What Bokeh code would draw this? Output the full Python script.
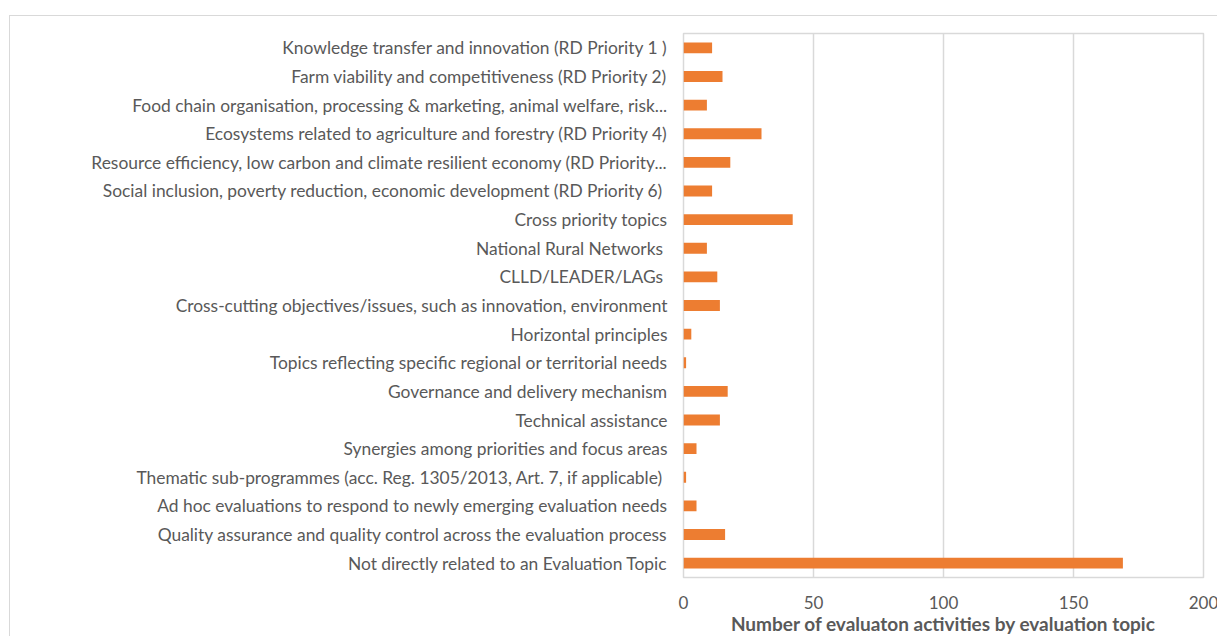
from bokeh.plotting import figure
from bokeh.models import FactorRange, ColumnDataSource
from bokeh.embed import file_html
from bokeh.resources import INLINE

categories = [
    "Knowledge transfer and innovation (RD Priority 1 )",
    "Farm viability and competitiveness (RD Priority 2)",
    "Food chain organisation, processing & marketing, animal welfare, risk...",
    "Ecosystems related to agriculture and forestry (RD Priority 4)",
    "Resource efficiency, low carbon and climate resilient economy (RD Priority...",
    "Social inclusion, poverty reduction, economic development (RD Priority  6)",
    "Cross priority topics",
    "National Rural Networks ",
    "CLLD/LEADER/LAGs ",
    "Cross-cutting objectives/issues, such as innovation, environment",
    "Horizontal principles",
    "Topics reflecting specific regional or territorial needs",
    "Governance and delivery mechanism",
    "Technical assistance",
    "Synergies among priorities and focus areas",
    "Thematic sub-programmes (acc. Reg. 1305/2013, Art. 7, if applicable) ",
    "Ad hoc evaluations to respond to newly emerging evaluation needs",
    "Quality assurance and quality control across the evaluation process",
    "Not directly related to an Evaluation Topic",
]
values = [11, 15, 9, 30, 18, 11, 42, 9, 13, 14, 3, 1, 17, 14, 5, 1, 5, 16, 169]
x_ticks = [0, 50, 100, 150, 200]
x_title = "Number of evaluaton activities by evaluation topic"

FONT = "Lato"
GRAY = "#595959"

src = ColumnDataSource(dict(cat=categories, val=values))

p = figure(
    y_range=FactorRange(*list(reversed(categories))),
    x_range=(0, 200),
    width=1209, height=621,
    output_backend="svg", toolbar_location=None,
    min_border_left=673, min_border_right=16,
    min_border_top=17, min_border_bottom=58,
)
p.hbar(y="cat", right="val", height=0.38, source=src,
       fill_color="#ED7D31", line_color=None)

p.xaxis.ticker = x_ticks
p.xaxis.axis_label = x_title
p.xaxis.axis_label_text_font = FONT
p.xaxis.axis_label_text_font_style = "bold"
p.xaxis.axis_label_text_font_size = "19px"
p.xaxis.axis_label_text_color = GRAY
p.xaxis.axis_label_standoff = 0
p.xaxis.axis_line_color = None
p.xaxis.major_tick_line_color = None
p.xaxis.minor_tick_line_color = None
p.xaxis.major_label_text_font = FONT
p.xaxis.major_label_text_font_size = "17px"
p.xaxis.major_label_text_color = GRAY
p.xaxis.major_label_standoff = 12

p.yaxis.axis_line_color = None
p.yaxis.major_tick_line_color = None
p.yaxis.minor_tick_line_color = None
p.yaxis.major_label_text_font = FONT
p.yaxis.major_label_text_font_size = "17.4px"
p.yaxis.major_label_text_color = GRAY
p.yaxis.major_label_standoff = 10

p.ygrid.grid_line_color = None
p.xgrid.grid_line_color = "#d9d9d9"
p.xgrid.grid_line_width = 1.5
p.outline_line_color = "#d9d9d9"
p.outline_line_width = 1.5

p.styles = {"border-top": "1px solid #d9d9d9", "border-left": "1px solid #d9d9d9",
            "margin-top": "15px", "margin-left": "9px"}

open("out.html", "w").write(file_html(p, INLINE))
